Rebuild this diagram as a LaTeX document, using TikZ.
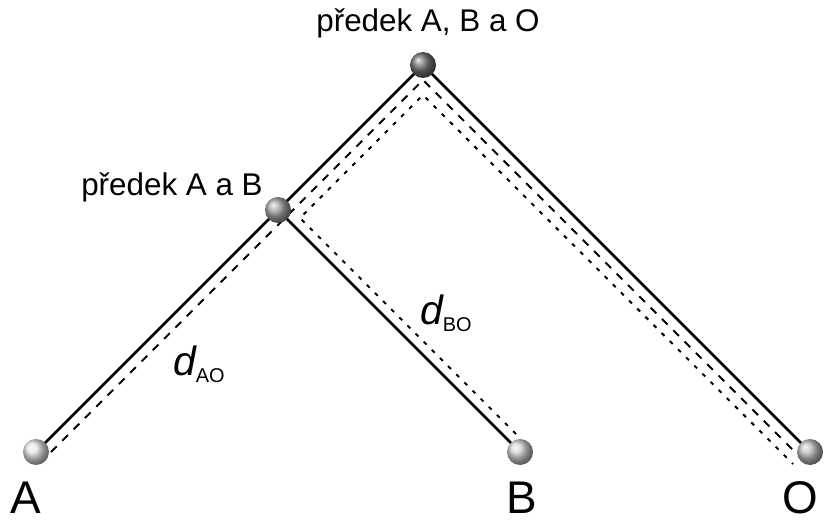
\documentclass[tikz,border=0pt]{standalone}
\usepackage{fontspec}
\setmainfont{Liberation Sans}
\begin{document}
\begin{tikzpicture}[x=1bp,y=-1bp,
  solidline/.style={line width=2.6bp, black},
  dashline/.style={line width=2bp, black, dash pattern=on 8bp off 8bp},
  dotline/.style={line width=2bp, black, dash pattern=on 4bp off 7.5bp},
  ballnode/.style={circle, inner sep=0pt, minimum size=26bp, shading=ball, draw=none},
  toplabel/.style={font=\fontsize{31.5}{31.5}\selectfont, inner sep=0pt, anchor=base},
  leaflabel/.style={font=\fontsize{46}{46}\selectfont, inner sep=0pt, anchor=base},
  distlabel/.style={inner sep=0pt, anchor=base west}
]
\useasboundingbox (0,0) rectangle (837,520);
% node centres
\coordinate (R) at (423,65);
\coordinate (M) at (278,210);
\coordinate (A) at (36,452);
\coordinate (B) at (520,452);
\coordinate (O) at (810,452);
% offset path points
\coordinate (a1) at (51,452);
\coordinate (r1) at (423,80);
\coordinate (o1) at (795,452);
\coordinate (b2) at (516,434);
\coordinate (m2) at (300,218);
\coordinate (r2) at (423,95);
\coordinate (o2) at (793,464);
% solid tree
\draw[solidline] (A) -- (R) -- (O);
\draw[solidline] (M) -- (B);
% d_AO path
\draw[dashline] (a1) -- (r1) -- (o1);
% d_BO path
\draw[dotline] (b2) -- (m2) -- (r2) -- (o2);
% balls
\node[ballnode, ball color=gray!90!black] (nR) at (R) {};
\node[ballnode, ball color=gray!70] (nM) at (M) {};
\node[ballnode, ball color=gray!20] (nA) at (A) {};
\node[ballnode, ball color=gray!35] (nB) at (B) {};
\node[ballnode, ball color=gray!50] (nO) at (O) {};
% labels
\node[toplabel] (lR) at (428,32) {předek A, B a O};
\node[toplabel] (lM) at (172,196) {předek A a B};
\node[leaflabel] (lA) at (26,513) {A};
\node[leaflabel] (lB) at (522,513) {B};
\node[leaflabel] (lO) at (800,513) {O};
\node[distlabel] (dAO) at (173,375) {\fontsize{41}{41}\selectfont\itshape d\upshape\fontsize{20}{20}\selectfont\raisebox{-7bp}{AO}};
\node[distlabel] (dBO) at (420,325) {\fontsize{41}{41}\selectfont\itshape d\upshape\fontsize{20}{20}\selectfont\raisebox{-7bp}{BO}};
\end{tikzpicture}
\end{document}
